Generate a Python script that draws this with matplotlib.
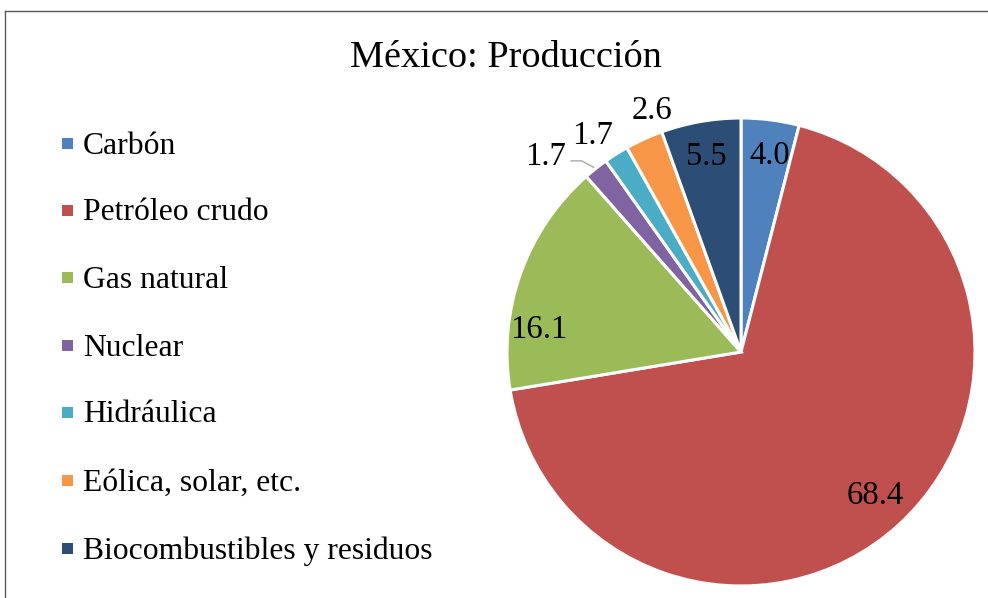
import matplotlib
matplotlib.use("Agg")
import matplotlib.pyplot as plt
import matplotlib.transforms as mtransforms
import numpy as np
from matplotlib.patches import Rectangle
from matplotlib.lines import Line2D

plt.rcParams['font.family'] = ['Liberation Serif', 'DejaVu Serif']

title = "México: Producción"
categories = ["Carbón", "Petróleo crudo", "Gas natural", "Nuclear", "Hidráulica",
              "Eólica, solar, etc.", "Biocombustibles y residuos"]
values = [4.0, 68.4, 16.1, 1.7, 1.7, 2.6, 5.5]
value_labels = ["4.0", "68.4", "16.1", "1.7", "1.7", "2.6", "5.5"]

colors = ["#4F81BD", "#C0504D", "#9BBB59", "#8064A2", "#4BACC6", "#F79646", "#2C4D75"]
# label placement (radius fraction, angle nudge in degrees)
label_r = [0.86, 0.83, 0.87, 1.19, 1.13, 1.11, 0.86]
label_da = [-1.0, 1.2, 12.5, 6.3, 1.8, -4.5, 0.0]

W, H = 988, 598
fig = plt.figure(figsize=(W/100, H/100), dpi=100)

# chart frame (top and left edges visible)
fig.add_artist(Line2D([5/W, 5/W], [0, 1 - 11/H], transform=fig.transFigure, color="#595959", lw=1.0))
fig.add_artist(Line2D([5/W, 1], [1 - 11/H, 1 - 11/H], transform=fig.transFigure, color="#595959", lw=1.0))

cx, cy, R = 741, 352, 234
ax = fig.add_axes([(cx - R)/W, (H - cy - R)/H, 2*R/W, 2*R/H])
wedges, _ = ax.pie(values, colors=colors, startangle=90, counterclock=False,
                   wedgeprops=dict(edgecolor="white", linewidth=2.2))
ax.set_xlim(-1, 1)
ax.set_ylim(-1, 1)
ax.set_aspect("equal")
ax.axis("off")

dy = -3  # px shift down
tdata = mtransforms.offset_copy(ax.transData, fig=fig, x=0, y=dy, units="dots")
for i, w in enumerate(wedges):
    mid = (w.theta1 + w.theta2) / 2 + label_da[i]
    a = np.deg2rad(mid)
    x, y = label_r[i]*np.cos(a), label_r[i]*np.sin(a)
    ax.text(x, y, value_labels[i], ha="center", va="center", fontsize=23.5, color="black",
            clip_on=False, transform=tdata)
    if i == 3:
        wm = np.deg2rad((w.theta1 + w.theta2) / 2)
        ex, ey = 1.0*np.cos(wm), 1.0*np.sin(wm)
        ax.plot([x + 0.11, x + 0.155, ex - 0.01], [y - 0.03, y - 0.03, ey + 0.005],
                color="#A6A6A6", lw=1.0, clip_on=False)

fig.text(506/W, 1 - (55 + 3)/H, title, ha="center", va="center", fontsize=27.5)

# legend
ys = [143, 210, 277, 345, 412, 480, 548]
for c, lab, yy in zip(colors, categories, ys):
    fig.add_artist(Rectangle((62/W, 1 - (yy + 6)/H), 11/W, 11/H, transform=fig.transFigure,
                             facecolor=c, edgecolor="none"))
    fig.text(83/W, 1 - (yy + 3)/H, lab, ha="left", va="center", fontsize=22.8)

fig.savefig("out.png", dpi=100)
